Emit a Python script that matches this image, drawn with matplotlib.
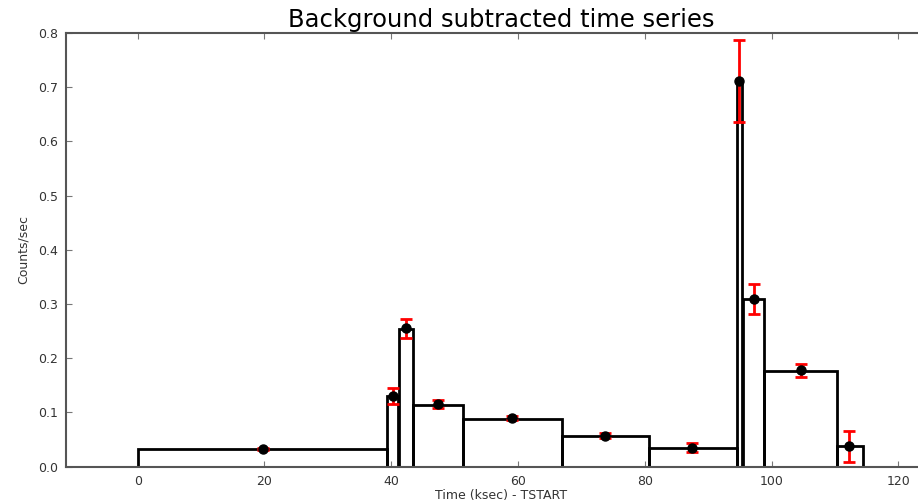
import matplotlib
matplotlib.use('Agg')
import matplotlib.pyplot as plt
import numpy as np

# block edges (ksec) and rates (counts/sec)
block_left = [0.0, 39.3, 41.3, 43.5, 51.3, 67.0, 80.6, 94.6, 95.5, 98.8, 110.4]
block_right = [39.3, 41.0, 43.5, 51.3, 67.0, 80.6, 94.5, 95.3, 98.8, 110.4, 114.4]
block_rate = [0.032, 0.130, 0.254, 0.114, 0.088, 0.057, 0.035, 0.710, 0.309, 0.177, 0.037]

# measured points with errors
pt_time = [19.7, 40.3, 42.3, 47.4, 59.1, 73.7, 87.5, 94.9, 97.2, 104.6, 112.2]
pt_rate = [0.033, 0.130, 0.255, 0.115, 0.089, 0.057, 0.035, 0.711, 0.309, 0.178, 0.037]
pt_err = [0.002, 0.0145, 0.018, 0.0075, 0.004, 0.004, 0.008, 0.076, 0.028, 0.012, 0.029]

x_ticks = [0, 20, 40, 60, 80, 100, 120]
y_ticks = [0.0, 0.1, 0.2, 0.3, 0.4, 0.5, 0.6, 0.7, 0.8]

fig = plt.figure(figsize=(9.18, 5.04), dpi=100)
ax = fig.add_axes([0.0719, 0.0744, 0.9488, 0.8601])

widths = np.array(block_right) - np.array(block_left)
ax.bar(block_left, block_rate, widths, align='edge', fill=False,
       edgecolor='black', linewidth=2, zorder=2)
ax.errorbar(pt_time, pt_rate, yerr=pt_err, fmt='o', color='black', ms=6.5,
            ecolor='red', elinewidth=2, capsize=4, capthick=2, zorder=3)

ax.set_xlim(-11.3, 126.1)
ax.set_ylim(0, 0.8)
ax.set_xticks(x_ticks)
ax.set_yticks(y_ticks)
ax.set_yticklabels(['%.1f' % v for v in y_ticks])
ax.tick_params(axis='both', which='both', direction='in', top=True, right=True,
               length=4, color='#777777', labelsize=9, labelcolor='#333333', pad=6)
for s in ax.spines.values():
    s.set_color('#555555')
    s.set_linewidth(1.5)

ax.set_title('Background subtracted time series', fontsize=17.5, pad=4)
ax.set_ylabel('Counts/sec', fontsize=9, color='#333333', labelpad=6)
ax.set_xlabel('Time (ksec) - TSTART', fontsize=9, color='#333333', labelpad=1)

fig.savefig('out.png', dpi=100)
